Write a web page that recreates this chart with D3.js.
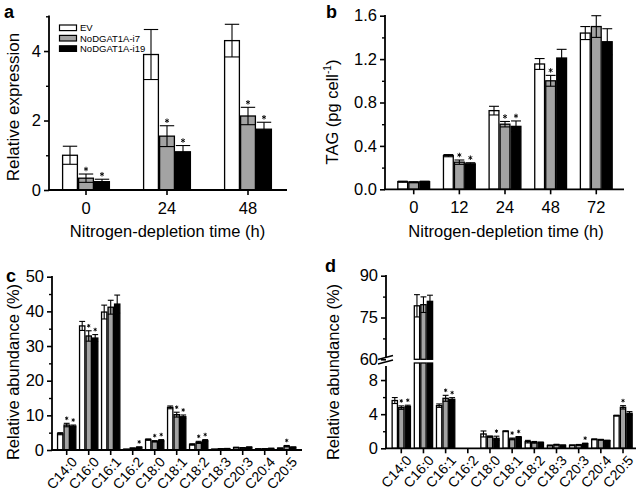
<!DOCTYPE html>
<html><head><meta charset="utf-8">
<script src="https://cdn.jsdelivr.net/npm/d3@7"></script>
<style>
body{margin:0;background:#fff;}
svg{display:block;font-family:"Liberation Sans",Arial,sans-serif;}
</style></head><body>
<svg id="chart" width="638" height="493"></svg>
<script>
// ---------- DATA ----------
const seriesNames = ["EV", "NoDGAT1A-i7", "NoDGAT1A-i19"];
const seriesFills = ["#ffffff", "#a3a3a3", "#000000"];

// panel a: relative expression
const aCats = ["0", "24", "48"];
const aEV = [1.0, 3.9, 4.3];
const aEVErr = [0.26, 0.72, 0.47];
const aI7 = [0.34, 1.55, 2.13];
const aI7Err = [0.12, 0.3, 0.25];
const aI19 = [0.24, 1.1, 1.75];
const aI19Err = [0.07, 0.18, 0.2];
const aI7Star = [1, 1, 1];
const aI19Star = [1, 1, 1];
const aTicks = [0, 2, 4];
const aMinor = [1, 3, 5];

// panel b: TAG
const bCats = ["0", "12", "24", "48", "72"];
const bEV = [0.07, 0.31, 0.725, 1.155, 1.44];
const bEVErr = [0.005, 0.01, 0.04, 0.05, 0.06];
const bI7 = [0.065, 0.25, 0.6, 1.0, 1.5];
const bI7Err = [0.005, 0.02, 0.025, 0.05, 0.1];
const bI19 = [0.07, 0.235, 0.58, 1.21, 1.36];
const bI19Err = [0.005, 0.01, 0.05, 0.08, 0.12];
const bI7Star = [0, 1, 1, 1, 0];
const bI19Star = [0, 1, 1, 0, 0];
const bTicks = [0, 0.4, 0.8, 1.2, 1.6];
const bMinor = [0.2, 0.6, 1.0, 1.4];

// panels c, d: fatty acid composition
const fattyAcids = ["C14:0", "C16:0", "C16:1", "C16:2", "C18:0", "C18:1", "C18:2", "C18:3", "C20:3", "C20:4", "C20:5"];
const cEV = [4.7, 35.8, 39.8, 0.2, 3.0, 12.3, 1.6, 0.2, 0.7, 0.3, 0.5];
const cEVErr = [0.3, 1.3, 2.0, 0.05, 0.2, 0.4, 0.2, 0.05, 0.1, 0.05, 0.1];
const cI7 = [7.2, 32.9, 41.2, 0.5, 2.5, 10.2, 2.2, 0.35, 0.6, 0.35, 1.1];
const cI7Err = [0.5, 1.5, 2.0, 0.1, 0.2, 0.7, 0.3, 0.05, 0.1, 0.05, 0.2];
const cI19 = [6.9, 32.3, 42.1, 0.8, 2.7, 9.6, 2.7, 0.4, 0.8, 0.45, 0.8];
const cI19Err = [0.3, 1.0, 2.6, 0.1, 0.3, 0.5, 0.3, 0.05, 0.1, 0.05, 0.1];
const cI7Star = [1, 1, 0, 0, 1, 1, 1, 0, 0, 0, 1];
const cI19Star = [1, 1, 0, 1, 1, 1, 1, 0, 0, 0, 0];
const cTicks = [0, 10, 20, 30, 40, 50];
const cMinor = [5, 15, 25, 35, 45];

const dEV = [5.6, 79.2, 5.0, 0, 1.68, 2.0, 0.78, 0.33, 0.35, 1.05, 3.83];
const dEVErr = [0.35, 4.0, 0.2, 0, 0.35, 0.05, 0.15, 0.05, 0.05, 0.05, 0.05];
const dI7 = [4.77, 79.6, 5.86, 0, 1.37, 1.1, 0.7, 0.42, 0.4, 1.0, 4.8];
const dI7Err = [0.2, 2.8, 0.35, 0, 0.08, 0.1, 0.1, 0.05, 0.05, 0.05, 0.2];
const dI19 = [4.9, 80.8, 5.74, 0, 1.17, 1.3, 0.66, 0.35, 0.55, 0.9, 4.1];
const dI19Err = [0.15, 2.2, 0.2, 0, 0.25, 0.08, 0.08, 0.05, 0.05, 0.05, 0.2];
const dI7Star = [1, 0, 1, 0, 0, 1, 0, 0, 0, 0, 1];
const dI19Star = [1, 0, 1, 0, 1, 1, 0, 0, 1, 0, 0];
const dLowTicks = [0, 4, 8];
const dLowMinor = [2, 6];
const dHighTicks = [60, 75, 90];
const dHighMinor = [67.5, 82.5];

// ---------- DRAWING ----------
const svg = d3.select("#chart");
const TICKFONT = 16.5, TITLEFONT = 16.5;

function makeRows(cats, vals, errs, stars) {
  return cats.map((c, i) => vals.map((v, k) => ({cat: c, key: k, v: v[i], e: errs[k][i], star: stars[k][i]}))).flat();
}

function drawPanel(o) {
  const g = svg.append("g");
  const x = d3.scaleBand().domain(o.cats).range(o.xRange).paddingInner(0).paddingOuter(0);
  const xi = d3.scaleBand().domain([0, 1, 2]).range([-o.groupW / 2, o.groupW / 2]);
  const y = o.y;
  const rows = makeRows(o.cats, o.vals, o.errs, o.stars);
  const cx = d => x(d.cat) + x.bandwidth() / 2 + xi(d.key);
  const bw = xi.bandwidth();

  // bars
  rows.forEach(d => {
    if (d.v <= 0) return;
    const segs = o.segments ? o.segments(d.v) : [[0, d.v]];
    segs.forEach(s => {
      g.append("rect")
        .attr("x", cx(d) + 0.6).attr("width", bw - 1.2)
        .attr("y", y(s[1])).attr("height", Math.max(0.8, y(s[0]) - y(s[1])))
        .attr("fill", seriesFills[d.key]).attr("stroke", "#000").attr("stroke-width", 1.3);
    });
  });
  // error bars
  const capW = bw * o.capFrac;
  rows.forEach(d => {
    if (d.v <= 0 || d.e <= 0) return;
    const mx = cx(d) + bw / 2;
    const lo = d.v - d.e, hi = d.v + d.e;
    g.append("line").attr("x1", mx).attr("x2", mx).attr("y1", y(lo)).attr("y2", y(hi))
      .attr("stroke", "#000").attr("stroke-width", 1.1);
    [lo, hi].forEach(vv => {
      g.append("line").attr("x1", mx - capW / 2).attr("x2", mx + capW / 2).attr("y1", y(vv)).attr("y2", y(vv))
        .attr("stroke", "#000").attr("stroke-width", 1.1);
    });
  });
  // significance stars (drawn as asterisk symbols)
  const star = d3.symbol(d3.symbolAsterisk, o.starSize);
  rows.forEach(d => {
    if (!d.star) return;
    const mx = cx(d) + bw / 2;
    g.append("path").attr("d", star())
      .attr("transform", `translate(${mx},${y(d.v + d.e) - 5})`)
      .attr("fill", "none").attr("stroke", "#000").attr("stroke-width", 0.9);
  });

  // x axis
  const xAxis = d3.axisBottom(x).tickSize(5).tickSizeOuter(0).tickFormat(o.rotate ? "" : null);
  const xg = g.append("g").attr("transform", `translate(0,${o.y0})`).call(xAxis);
  xg.select(".domain").remove();
  xg.selectAll(".tick line").attr("stroke-width", 1.6);
  xg.selectAll(".tick text").attr("font-size", TICKFONT).attr("dy", "0.95em").attr("font-family", null);
  g.append("line").attr("x1", o.axisX - 0.8).attr("x2", o.axisEnd).attr("y1", o.y0).attr("y2", o.y0)
    .attr("stroke", "#000").attr("stroke-width", 1.8);
  if (o.rotate) {
    o.cats.forEach(c => {
      const px = x(c) + x.bandwidth() / 2 + 4;
      g.append("text").attr("transform", `translate(${px},${o.y0 + 6}) rotate(-48)`)
        .attr("text-anchor", "end").attr("dy", "0.7em").attr("font-size", 14).text(c);
    });
  }
  return {g, x, y};
}

function yAxis(g, y, ax, major, minor, fmt, yTop, yBot) {
  const a1 = g.append("g").attr("transform", `translate(${ax},0)`)
    .call(d3.axisLeft(y).tickValues(major).tickSize(5).tickSizeOuter(0).tickFormat(fmt));
  a1.select(".domain").remove();
  a1.selectAll(".tick line").attr("stroke-width", 1.6);
  a1.selectAll(".tick text").attr("font-size", TICKFONT).attr("font-family", null).attr("x", -8);
  const a2 = g.append("g").attr("transform", `translate(${ax},0)`)
    .call(d3.axisLeft(y).tickValues(minor).tickSize(3).tickSizeOuter(0).tickFormat(""));
  a2.select(".domain").remove();
  a2.selectAll(".tick line").attr("stroke-width", 1.4);
  g.append("line").attr("x1", ax).attr("x2", ax).attr("y1", yTop).attr("y2", yBot)
    .attr("stroke", "#000").attr("stroke-width", 1.8);
}

// ----- panel a -----
{
  const y = d3.scaleLinear().domain([0, 5]).range([190, 16.3]);
  const p = drawPanel({cats: aCats, vals: [aEV, aI7, aI19], errs: [aEVErr, aI7Err, aI19Err],
    stars: [[0, 0, 0], aI7Star, aI19Star], y, y0: 190, xRange: [45.5, 288.5], groupW: 48,
    axisX: 49, axisEnd: 287, capFrac: 0.9, starSize: 14});
  yAxis(p.g, y, 49, aTicks, aMinor, d3.format("d"), 15.5, 190.8);
  // legend
  seriesNames.forEach((n, i) => {
    p.g.append("rect").attr("x", 59.5).attr("y", 25 + i * 10.4).attr("width", 17).attr("height", 5.6)
      .attr("fill", seriesFills[i]).attr("stroke", "#000").attr("stroke-width", 1.2);
    p.g.append("text").attr("x", 80).attr("y", 27.9 + i * 10.4).attr("dy", "0.35em")
      .attr("font-size", 9.5).text(n);
  });
  p.g.append("text").attr("transform", "translate(19,107) rotate(-90)").attr("text-anchor", "middle")
    .attr("font-size", 17).text("Relative expression");
  p.g.append("text").attr("x", 167.5).attr("y", 237).attr("text-anchor", "middle")
    .attr("font-size", TITLEFONT).text("Nitrogen-depletion time (h)");
  p.g.append("text").attr("x", 4).attr("y", 18).attr("font-size", 18).attr("font-weight", "bold").text("a");
}

// ----- panel b -----
{
  const y = d3.scaleLinear().domain([0, 1.6]).range([189.3, 15.7]);
  const p = drawPanel({cats: bCats, vals: [bEV, bI7, bI19], errs: [bEVErr, bI7Err, bI19Err],
    stars: [[0, 0, 0, 0, 0], bI7Star, bI19Star], y, y0: 189.3, xRange: [390.9, 619.1], groupW: 33,
    axisX: 385, axisEnd: 624, capFrac: 0.9, starSize: 14});
  yAxis(p.g, y, 385, bTicks, bMinor, d3.format(".1f"), 15, 190);
  const t = p.g.append("text").attr("transform", "translate(338,112) rotate(-90)").attr("text-anchor", "middle")
    .attr("font-size", TITLEFONT);
  t.append("tspan").text("TAG  (pg cell");
  t.append("tspan").attr("font-size", 10).attr("dy", -7).text("-1");
  t.append("tspan").attr("dy", 7).text(")");
  p.g.append("text").attr("x", 506).attr("y", 237).attr("text-anchor", "middle")
    .attr("font-size", TITLEFONT).text("Nitrogen-depletion time (h)");
  p.g.append("text").attr("x", 326).attr("y", 18).attr("font-size", 18).attr("font-weight", "bold").text("b");
}

// ----- panel c -----
{
  const y = d3.scaleLinear().domain([0, 50]).range([450, 276.7]);
  const p = drawPanel({cats: fattyAcids, vals: [cEV, cI7, cI19], errs: [cEVErr, cI7Err, cI19Err],
    stars: [fattyAcids.map(() => 0), cI7Star, cI19Star], y, y0: 450, xRange: [55.7, 297.7], groupW: 19.5,
    axisX: 52, axisEnd: 302, capFrac: 0.9, starSize: 9, rotate: true});
  yAxis(p.g, y, 52, cTicks, cMinor, d3.format("d"), 276, 450.8);
  p.g.append("text").attr("transform", "translate(19,372) rotate(-90)").attr("text-anchor", "middle")
    .attr("font-size", TITLEFONT).text("Relative abundance (%)");
  p.g.append("text").attr("x", 6).attr("y", 282).attr("font-size", 18).attr("font-weight", "bold").text("c");
}

// ----- panel d (broken axis) -----
{
  const y = d3.scaleLinear().domain([0, 10, 60, 90]).range([448.3, 363, 359.3, 275.7]);
  const p = drawPanel({cats: fattyAcids, vals: [dEV, dI7, dI19], errs: [dEVErr, dI7Err, dI19Err],
    stars: [fattyAcids.map(() => 0), dI7Star, dI19Star], y, y0: 448.3, xRange: [390.2, 634.1], groupW: 19.5,
    axisX: 386, axisEnd: 636, capFrac: 0.9, starSize: 9, rotate: true,
    segments: v => v > 10 ? [[0, 10], [60, v]] : [[0, v]]});
  const ax = 386;
  yAxis(p.g, y, ax, dLowTicks, dLowMinor, d3.format("d"), 366, 449);
  yAxis(p.g, y, ax, dHighTicks, dHighMinor, d3.format("d"), 275, 357);
  // break marks
  [357.5, 362].forEach(by => {
    p.g.append("line").attr("x1", ax - 8).attr("x2", ax + 7).attr("y1", by + 2).attr("y2", by - 2)
      .attr("stroke", "#000").attr("stroke-width", 1.6);
  });
  p.g.append("text").attr("transform", "translate(339,372) rotate(-90)").attr("text-anchor", "middle")
    .attr("font-size", TITLEFONT).text("Relative abundance (%)");
  p.g.append("text").attr("x", 325).attr("y", 272).attr("font-size", 18).attr("font-weight", "bold").text("d");
}
</script>
</body></html>
